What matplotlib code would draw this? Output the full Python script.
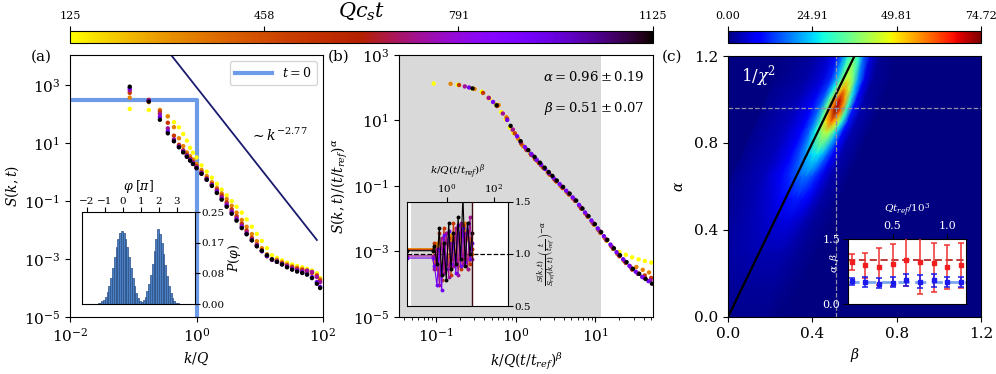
import numpy as np
import matplotlib
matplotlib.use('Agg')
import matplotlib.pyplot as plt
from matplotlib import colors, cm
from matplotlib.ticker import FixedLocator, NullLocator, LogLocator, NullFormatter

plt.rcParams['font.family'] = ['DejaVu Serif']
plt.rcParams['mathtext.fontset'] = 'dejavuserif'
plt.rcParams['font.size'] = 10

# ---------------- data ----------------
times = [125, 325, 525, 725, 925, 1125]
k_grid = [0.088, 0.176, 0.264, 0.352, 0.44, 0.528, 0.616, 0.704, 0.792, 0.88,
          1.0, 1.2, 1.45, 1.75, 2.1, 2.5, 3.0, 3.6, 4.3, 5.2, 6.2, 7.5, 9.0,
          10.8, 13, 15.6, 18.7, 22.5, 27, 32.5, 39, 47, 56, 67, 80, 90]
S_t125 = [152, 139, 109, 85, 53, 35, 20.6, 12.2, 6.9, 4.7, 3.2, 1.71, 1.04, 0.64,
          0.395, 0.25, 0.157, 0.100, 0.064, 0.040, 0.0233, 0.013, 0.0074, 0.00424,
          0.00238, 0.00136, 1.1e-3, 9e-4, 7.5e-4, 6.5e-4, 5.8e-4, 5.2e-4, 4.6e-4,
          4.0e-4, 3.2e-4, 2.2e-4]
S_t325 = [372, 259, 140, 84, 35.6, 14.7, 7.9, 4.8, 3.53, 2.70, 1.92, 1.19, 0.73,
          0.447, 0.284, 0.184, 0.117, 0.069, 0.040, 0.0223, 0.0130, 0.00723, 0.00413,
          0.00237, 0.00147, 1.0e-3, 9.5e-4, 7.8e-4, 6.5e-4, 5.6e-4, 5.0e-4, 4.5e-4,
          4.0e-4, 3.5e-4, 2.8e-4, 2.0e-4]
S_t525 = [543, 312, 124, 50.5, 18.1, 8.8, 5.7, 4.0, 2.96, 2.25, 1.61, 1.0, 0.617,
          0.386, 0.246, 0.158, 0.0906, 0.0519, 0.0301, 0.0167, 0.00975, 0.0054,
          0.0032, 0.00201, 0.00125, 9.5e-4, 8.3e-4, 7e-4, 6e-4, 5.2e-4, 4.6e-4,
          4.2e-4, 3.8e-4, 3.3e-4, 2.6e-4, 1.8e-4]
S_t725 = [671, 298, 100, 32.4, 13.5, 7.9, 5.3, 3.7, 2.74, 2.08, 1.49, 0.93, 0.583,
          0.365, 0.232, 0.136, 0.0776, 0.0445, 0.0258, 0.0143, 0.00834, 0.00475,
          0.003, 0.00188, 0.00127, 9.5e-4, 8.2e-4, 6.8e-4, 5.7e-4, 4.8e-4, 4.2e-4,
          3.8e-4, 4.0e-4, 3.6e-4, 2.4e-4, 1.6e-4]
S_t925 = [787, 284, 80, 25.5, 11.9, 7.4, 4.93, 3.48, 2.55, 1.95, 1.39, 0.885, 0.555,
          0.347, 0.205, 0.12, 0.0686, 0.0392, 0.0227, 0.0126, 0.00735, 0.00449,
          0.00282, 0.00186, 0.00129, 9.6e-4, 8.0e-4, 6.6e-4, 5.4e-4, 4.5e-4, 3.9e-4,
          3.4e-4, 3.0e-4, 2.4e-4, 1.6e-4, 1.1e-4]
S_t1125 = [889, 272, 64, 21.8, 11.6, 7.2, 4.8, 3.38, 2.49, 1.90, 1.37, 0.873, 0.547,
           0.334, 0.191, 0.112, 0.0638, 0.0365, 0.0211, 0.0117, 0.00716, 0.0044,
           0.00275, 0.00194, 0.00135, 9.7e-4, 8.0e-4, 6.5e-4, 5.2e-4, 4.3e-4, 3.7e-4,
           3.3e-4, 2.9e-4, 2.2e-4, 1.4e-4, 1.0e-4]
S_series = [S_t125, S_t325, S_t525, S_t725, S_t925, S_t1125]

t0_k = [0.01, 1.0, 1.0]
t0_S = [300.0, 300.0, 1e-6]
guide_exponent = -2.77
guide_amp = 850.0
guide_k = [0.35, 80.0]

alpha_fit, alpha_err = 0.96, 0.19
beta_fit, beta_err = 0.51, 0.07
t_ref = 110.0
fit_window = [0.031, 11.6]

# histogram of phase (units of pi)
phi_centers = [-1.45, -1.35, -1.25, -1.15, -1.05, -0.95, -0.85, -0.75, -0.65, -0.55,
               -0.45, -0.35, -0.25, -0.15, -0.05, 0.05, 0.15, 0.25, 0.35, 0.45, 0.55,
               0.65, 0.75, 0.85, 0.95, 1.05, 1.15, 1.25, 1.35, 1.45, 1.55, 1.65, 1.75,
               1.85, 1.95, 2.05, 2.15, 2.25, 2.35, 2.45, 2.55, 2.65, 2.75, 2.85, 2.95,
               3.05, 3.15]
phi_prob = [0.001, 0.002, 0.004, 0.007, 0.012, 0.02, 0.032, 0.05, 0.072, 0.098,
            0.127, 0.155, 0.178, 0.194, 0.199, 0.194, 0.178, 0.155, 0.127, 0.098,
            0.072, 0.05, 0.03, 0.015, 0.007, 0.006, 0.01, 0.02, 0.035, 0.055, 0.08,
            0.11, 0.145, 0.178, 0.205, 0.19, 0.165, 0.135, 0.105, 0.075, 0.05, 0.03,
            0.016, 0.008, 0.004, 0.002, 0.001]

# inset (b): ratio to reference
ratio_times = [325, 525, 725, 925, 1125]
ratio_x = [0.02, 0.25, 0.3, 0.38, 0.48, 0.6, 0.75, 0.95, 1.2, 1.5, 1.9, 2.4, 3.0,
           3.8, 4.8, 6.0, 7.5, 9.5, 12]
ratio_t325 = [1.05, 1.05, 0.92, 1.10, 0.80, 1.15, 0.85, 1.20, 0.90, 1.18, 0.95, 1.25,
              0.88, 1.20, 0.92, 1.30, 0.85, 1.15, 1.0]
ratio_t525 = [1.04, 1.04, 1.10, 0.85, 1.20, 0.75, 1.25, 0.90, 1.15, 0.80, 1.30, 0.92,
              1.20, 0.85, 1.28, 0.95, 1.22, 0.90, 1.05]
ratio_t725 = [0.98, 0.98, 0.85, 1.05, 0.70, 1.15, 0.82, 1.20, 0.78, 1.10, 0.88, 1.25,
              0.80, 1.30, 0.90, 1.20, 0.85, 1.35, 0.95]
ratio_t925 = [0.96, 0.96, 0.88, 0.70, 1.05, 0.65, 1.18, 0.85, 1.22, 0.90, 1.10, 0.82,
              1.28, 0.88, 1.25, 0.92, 1.30, 0.95, 1.1]
ratio_t1125 = [1.03, 1.03, 1.08, 0.90, 1.25, 0.80, 1.10, 0.75, 1.30, 0.85, 1.20, 0.90,
               1.35, 0.95, 1.55, 0.88, 1.30, 1.00, 1.2]
ratio_series = [ratio_t325, ratio_t525, ratio_t725, ratio_t925, ratio_t1125]

# panel (c): 1/chi^2 landscape, rows in alpha, ridge-centred columns in beta
chi_alpha_rows = [0.0, 0.15, 0.3, 0.45, 0.55, 0.65, 0.75, 0.85, 0.9, 0.95, 1.0, 1.05, 1.1, 1.2, 1.3]
chi_ridge_beta = [0.10, 0.16, 0.22, 0.29, 0.33, 0.37, 0.42, 0.465, 0.49, 0.51, 0.53, 0.55, 0.57, 0.595, 0.62]
chi_offsets = [-0.35, -0.2, -0.12, -0.08, -0.05, -0.025, 0, 0.025, 0.05, 0.08, 0.12, 0.2]
chi_values = [
    [0, 1, 1, 1, 1, 1, 1, 1, 1, 1, 0.5, 0],
    [0.5, 1.5, 2, 2, 2, 2, 2, 2, 2, 1.5, 1, 0],
    [1, 2.5, 3, 3.5, 3.5, 3.5, 3.5, 3.5, 3, 2.5, 1.5, 0.5],
    [1, 3, 4.5, 5.5, 6, 6.5, 6.5, 6, 5, 3.5, 2, 0.5],
    [1, 3.5, 6, 8, 10, 11, 11.5, 10.5, 8.5, 5.5, 2.5, 0.5],
    [1, 4, 8, 12, 15, 17, 18, 16, 12, 7, 3, 0.5],
    [1, 4, 9, 15, 21, 25, 27, 24, 17, 9, 3, 0.5],
    [1, 4, 9, 17, 28, 38, 44, 38, 24, 10, 3, 0.5],
    [1, 4, 9, 18, 32, 50, 60, 50, 30, 11, 3, 0.5],
    [1, 4, 9, 18, 34, 58, 74, 60, 32, 11, 3, 0.5],
    [1, 3.5, 8, 16, 32, 55, 70, 55, 30, 10, 2.5, 0.5],
    [1, 3, 7, 14, 27, 44, 56, 44, 24, 8, 2, 0.5],
    [0.5, 2.5, 6, 12, 23, 36, 45, 36, 20, 7, 2, 0.5],
    [0.5, 2, 5, 10, 19, 29, 36, 29, 16, 6, 1.5, 0],
    [0.5, 1.5, 4, 8, 15, 23, 28, 23, 13, 5, 1, 0],
]
chi_max = 74.72
line_slope = 2.0
alpha_best, beta_best = 0.96, 0.51

# inset (c): exponents vs reference time
tref_vals = [0.125, 0.25, 0.375, 0.5, 0.625, 0.75, 0.875, 1.0, 1.125]
alpha_vals = [0.97, 0.89, 0.86, 0.91, 1.01, 0.96, 0.95, 0.84, 0.89]
alpha_lo = [0.78, 0.60, 0.43, 0.41, 0.41, 0.24, 0.28, 0.34, 0.36]
alpha_hi = [1.15, 1.18, 1.29, 1.38, 1.60, 1.60, 1.39, 1.35, 1.40]
beta_vals = [0.52, 0.50, 0.47, 0.49, 0.54, 0.51, 0.54, 0.50, 0.50]
beta_lo = [0.44, 0.40, 0.36, 0.38, 0.41, 0.36, 0.38, 0.39, 0.39]
beta_hi = [0.60, 0.62, 0.60, 0.63, 0.68, 0.67, 0.69, 0.63, 0.63]
alpha_line, beta_line = 1.0, 0.51

# ---------------- figure ----------------
W, H = 996, 374
fig = plt.figure(figsize=(W / 100, H / 100), dpi=100)

def box(x0, y0, x1, y1):
    return [x0 / W, 1 - y1 / H, (x1 - x0) / W, (y1 - y0) / H]

cmap_t = plt.get_cmap('gnuplot_r')
norm_t = colors.Normalize(125, 1125)
TICK = 11
LAB = 10
INS = 7.5

# ---- panel (a)
ax_a = fig.add_axes(box(70, 55, 323, 317))
ax_a.set_xscale('log'); ax_a.set_yscale('log')
ax_a.plot(t0_k, t0_S, color='#6d9be8', lw=3, label='$t=0$', zorder=1)
gk = np.array(guide_k)
ax_a.plot(gk, guide_amp * gk ** guide_exponent, color='#1a1a6e', lw=1.3, zorder=1)
for t, S in zip(times, S_series):
    ax_a.scatter(k_grid, S, s=10, color=cmap_t(norm_t(t)), edgecolors='none', zorder=3)
ax_a.text(7.0, 12, r'$\sim k^{-2.77}$', fontsize=10)
ax_a.set_xlim(1e-2, 1e2); ax_a.set_ylim(1e-5, 1.1e4)
ax_a.xaxis.set_major_locator(FixedLocator([1e-2, 1, 1e2]))
ax_a.xaxis.set_minor_locator(NullLocator())
ax_a.yaxis.set_major_locator(FixedLocator([1e-5, 1e-3, 1e-1, 1e1, 1e3]))
ax_a.yaxis.set_minor_locator(NullLocator())
ax_a.tick_params(labelsize=TICK)
ax_a.set_xlabel('$k/Q$', fontsize=LAB)
ax_a.set_ylabel('$S(k,t)$', fontsize=LAB, labelpad=2)
ax_a.legend(loc='upper right', fontsize=9, handlelength=3)
fig.text(41 / W, 1 - 57 / H, '(a)', fontsize=11, ha='center', va='center')

# inset (a)
ax_ai = fig.add_axes(box(82.3, 212.3, 195, 304))
ax_ai.bar(phi_centers, phi_prob, width=0.1, color='#4a7fc4', edgecolor='#2b4f86', lw=0.5)
ax_ai.set_xlim(-2.25, 4.0); ax_ai.set_ylim(0, 0.25)
ax_ai.xaxis.tick_top(); ax_ai.xaxis.set_label_position('top')
ax_ai.yaxis.tick_right(); ax_ai.yaxis.set_label_position('right')
ax_ai.set_xticks([-2, -1, 0, 1, 2, 3])
ax_ai.set_yticks([0, 0.25 / 3, 0.5 / 3, 0.25])
ax_ai.set_yticklabels(['0.00', '0.08', '0.17', '0.25'])
ax_ai.tick_params(labelsize=INS, pad=1)
ax_ai.set_xlabel(r'$\varphi\;[\pi]$', fontsize=9, labelpad=5)
ax_ai.set_ylabel(r'$P(\varphi)$', fontsize=9, labelpad=1)

# ---- panel (b)
ax_b = fig.add_axes(box(399, 55, 653, 317))
ax_b.set_xscale('log'); ax_b.set_yscale('log')
ax_b.axvspan(fit_window[0], fit_window[1], color='#d9d9d9', lw=0, zorder=0)
for t, S in zip(times, S_series):
    xs = np.array(k_grid) * (t / t_ref) ** beta_fit
    ys = np.array(S) / (t / t_ref) ** alpha_fit
    ax_b.scatter(xs, ys, s=10, color=cmap_t(norm_t(t)), edgecolors='none', zorder=3)
ax_b.set_xlim(0.0345, 52.6); ax_b.set_ylim(1e-5, 1e3)
ax_b.xaxis.set_major_locator(FixedLocator([0.1, 1, 10]))
ax_b.xaxis.set_minor_locator(LogLocator(base=10, subs=np.arange(2, 10)))
ax_b.xaxis.set_minor_formatter(NullFormatter())
ax_b.yaxis.set_major_locator(FixedLocator([1e-5, 1e-3, 1e-1, 1e1, 1e3]))
ax_b.yaxis.set_minor_locator(NullLocator())
ax_b.tick_params(labelsize=TICK)
ax_b.set_xlabel(r'$k/Q(t/t_{ref})^{\beta}$', fontsize=LAB)
ax_b.set_ylabel(r'$S(k,t)/(t/t_{ref})^{\alpha}$', fontsize=LAB, labelpad=2)
ax_b.text(0.965, 0.915, r'$\alpha = %.2f \pm %.2f$' % (alpha_fit, alpha_err),
          transform=ax_b.transAxes, ha='right', va='center', fontsize=9.5)
ax_b.text(0.965, 0.795, r'$\beta = %.2f \pm %.2f$' % (beta_fit, beta_err),
          transform=ax_b.transAxes, ha='right', va='center', fontsize=9.5)
fig.text(339 / W, 1 - 57 / H, '(b)', fontsize=11, ha='center', va='center')

# inset (b)
ax_bi = fig.add_axes(box(406.7, 201.7, 508.3, 306))
ax_bi.set_xscale('log')
ax_bi.axvspan(fit_window[0], fit_window[1], color='#d9d9d9', lw=0, zorder=0)
ax_bi.axhline(1.0, color='k', ls='--', lw=0.9, zorder=1)
for t, r in zip(ratio_times, ratio_series):
    ax_bi.plot(ratio_x, r, '-o', ms=1.8, lw=0.8, color=cmap_t(norm_t(t)), zorder=2)
ax_bi.axvline(fit_window[1], color='#3d0a14', lw=1.0, zorder=3)
ax_bi.set_xlim(0.02, 400); ax_bi.set_ylim(0.5, 1.5)
ax_bi.xaxis.tick_top(); ax_bi.xaxis.set_label_position('top')
ax_bi.yaxis.tick_right(); ax_bi.yaxis.set_label_position('right')
ax_bi.xaxis.set_major_locator(FixedLocator([1, 100]))
ax_bi.xaxis.set_minor_locator(NullLocator())
ax_bi.set_yticks([0.5, 1.0, 1.5])
ax_bi.tick_params(labelsize=INS, pad=1)
ax_bi.set_xlabel(r'$k/Q(t/t_{ref})^{\beta}$', fontsize=7.5, labelpad=6)
ax_bi.set_ylabel(r'$\frac{S(k,t)}{S_{ref}(k,t)}\left(\frac{t}{t_{ref}}\right)^{-\alpha}$',
                 fontsize=7.5, labelpad=3)

# ---- panel (c)
ax_c = fig.add_axes(box(728, 56, 981, 317))
cmap_c = plt.get_cmap('jet')
ax_c.set_facecolor(cmap_c(0.0))
A = np.array(chi_alpha_rows)[:, None] * np.ones(len(chi_offsets))[None, :]
B = np.array(chi_ridge_beta)[:, None] + np.array(chi_offsets)[None, :]
ax_c.pcolormesh(B, A, np.array(chi_values), shading='gouraud', cmap=cmap_c,
                vmin=0, vmax=chi_max, zorder=0)
bl = np.array([0.0, 0.7])
ax_c.plot(bl, line_slope * bl, color='k', lw=1.6, zorder=2)
ax_c.axvline(beta_best, color='#9090a8', ls='--', lw=0.9, zorder=2)
ax_c.axhline(alpha_best, color='#9090a8', ls='--', lw=0.9, zorder=2)
ax_c.set_xlim(0, 1.2); ax_c.set_ylim(0, 1.2)
ax_c.set_xticks([0, 0.4, 0.8, 1.2]); ax_c.set_yticks([0, 0.4, 0.8, 1.2])
ax_c.tick_params(labelsize=TICK)
ax_c.set_xlabel(r'$\beta$', fontsize=LAB)
ax_c.set_ylabel(r'$\alpha$', fontsize=LAB, labelpad=6)
ax_c.text(0.05, 0.925, r'$1/\chi^2$', transform=ax_c.transAxes, color='white',
          fontsize=12, ha='left', va='center')
fig.text(672 / W, 1 - 57 / H, '(c)', fontsize=11, ha='center', va='center')

# inset (c)
ax_ci = fig.add_axes(box(847.7, 238.7, 966, 304))
av = np.array(alpha_vals); bv = np.array(beta_vals)
ax_ci.axhline(alpha_line, color='#b52a2a', ls='--', lw=1.3, dashes=(4, 2), zorder=1)
ax_ci.axhline(beta_line, color='#7aa6f0', ls='--', lw=2.0, dashes=(4, 2), zorder=1)
ax_ci.errorbar(tref_vals, av, yerr=[av - np.array(alpha_lo), np.array(alpha_hi) - av],
               fmt='s', ms=2.5, color='#f01e1e', ecolor='#f03030', elinewidth=1.1,
               capsize=2, capthick=1.1, zorder=3)
ax_ci.errorbar(tref_vals, bv, yerr=[bv - np.array(beta_lo), np.array(beta_hi) - bv],
               fmt='s', ms=2.5, color='#1a1aee', ecolor='#1a1aee', elinewidth=1.1,
               capsize=2, capthick=1.1, zorder=3)
ax_ci.set_xlim(0.09, 1.17); ax_ci.set_ylim(0, 1.5)
ax_ci.xaxis.tick_top(); ax_ci.xaxis.set_label_position('top')
ax_ci.set_xticks([0.5, 1.0]); ax_ci.set_yticks([0.0, 1.5])
ax_ci.tick_params(labelsize=8, labelcolor='white', pad=2)
ax_ci.set_xlabel(r'$Qt_{ref}/10^3$', fontsize=7.5, color='white', labelpad=6)
ax_ci.set_ylabel(r'$\alpha,\beta$', fontsize=7.5, color='white')
ax_ci.yaxis.set_label_coords(-0.06, 0.62)

# ---- colorbars
cax1 = fig.add_axes(box(70, 31, 653, 43))
cb1 = fig.colorbar(cm.ScalarMappable(norm=norm_t, cmap=cmap_t), cax=cax1, orientation='horizontal')
cax1.xaxis.set_ticks_position('top')
cb1.set_ticks([125, 458, 791, 1125])
cax1.tick_params(labelsize=8)
fig.text(362 / W, 1 - 12 / H, r'$Qc_{s}t$', fontsize=15, ha='center', va='center')

cax2 = fig.add_axes(box(728, 31, 981, 43))
norm_c = colors.Normalize(0, chi_max)
cb2 = fig.colorbar(cm.ScalarMappable(norm=norm_c, cmap=cmap_c), cax=cax2, orientation='horizontal')
cax2.xaxis.set_ticks_position('top')
cb2.set_ticks([0, 24.91, 49.81, 74.72])
cb2.set_ticklabels(['0.00', '24.91', '49.81', '74.72'])
cax2.tick_params(labelsize=8)

fig.savefig('out.png', dpi=100)
